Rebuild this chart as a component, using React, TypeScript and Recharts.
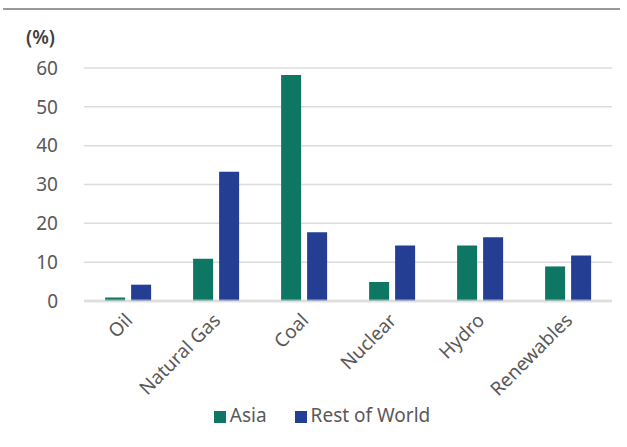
import React from 'react';
import { BarChart, Bar, XAxis, YAxis, CartesianGrid, Legend, ReferenceLine } from 'recharts';

const categories = ['Oil', 'Natural Gas', 'Coal', 'Nuclear', 'Hydro', 'Renewables'];
const asia = [0.9, 10.9, 58.2, 4.9, 14.3, 8.9];
const restOfWorld = [4.2, 33.3, 17.7, 14.3, 16.4, 11.7];
const yTicks = [0, 10, 20, 30, 40, 50, 60];

const FONT = '"Noto Sans", sans-serif';
const TEXT = '#595959';

const data = categories.map((name, i) => ({ name, asia: asia[i], row: restOfWorld[i] }));

const AngledTick = (props: any) => {
  const { x, y, payload } = props;
  return (
    <text
      transform={`translate(${x + 2},${y + 9}) rotate(-45)`}
      textAnchor="end"
      dominantBaseline="middle"
      fill={TEXT}
      fontSize={19}
      fontFamily={FONT}
    >
      {payload.value}
    </text>
  );
};

export default function App() {
  return (
    <div style={{ position: 'absolute', left: 0, top: 0, width: 627, height: 447, background: '#fff' }}>
      <div style={{ position: 'absolute', left: 3, top: 8, width: 617, height: 2, background: '#9a9a9a' }} />
      <div
        style={{
          position: 'absolute',
          left: 26,
          top: 24,
          fontFamily: FONT,
          fontSize: 19,
          fontWeight: 600,
          color: '#404040',
        }}
      >
        (%)
      </div>
      <BarChart
        width={627}
        height={447}
        data={data}
        margin={{ top: 68, right: 15, bottom: 30, left: 0 }}
        barGap={6}
        barCategoryGap="24%"
      >
        <CartesianGrid vertical={false} stroke="#dcdcdc" strokeWidth={1.5} />
        <XAxis
          dataKey="name"
          axisLine={false}
          tickLine={false}
          interval={0}
          height={90}
          tick={<AngledTick />}
        />
        <YAxis
          domain={[0, 60]}
          ticks={yTicks}
          width={84}
          axisLine={false}
          tickLine={false}
          tickSize={0}
          tickMargin={26}
          tick={{ fill: TEXT, fontSize: 19, fontFamily: FONT }}
        />
        <Bar dataKey="asia" name="Asia" fill="#0e7763" isAnimationActive={false} />
        <Bar dataKey="row" name="Rest of World" fill="#233e93" isAnimationActive={false} />
        <ReferenceLine y={0} stroke="#dcdcdc" strokeOpacity={0.7} strokeWidth={3} />
        <Legend
          iconType="square"
          iconSize={12}
          wrapperStyle={{ top: 402, left: 186, width: 300, fontFamily: FONT, fontSize: 19 }}
          formatter={(value: string) => <span style={{ color: TEXT, marginRight: 18 }}>{value}</span>}
        />
      </BarChart>
    </div>
  );
}
